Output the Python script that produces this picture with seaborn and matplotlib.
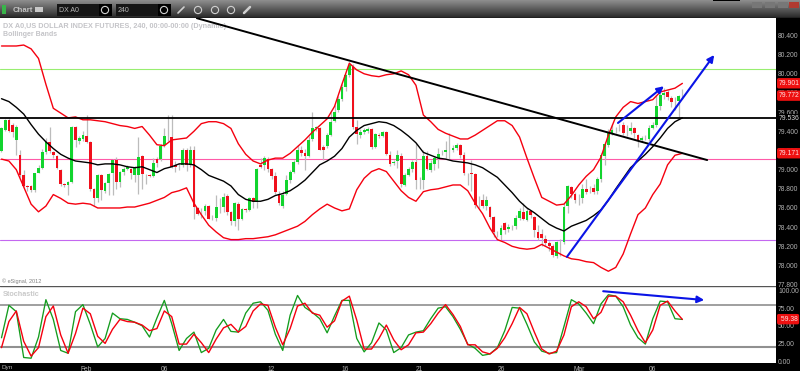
import numpy as np
import matplotlib
matplotlib.use('Agg')
import matplotlib.pyplot as plt
from matplotlib.patches import Rectangle, Circle
import seaborn as sns

# 4h candles
opens = [79.19,79.41,79.52,79.47,79.31,79.15,78.94,78.83,78.83,78.79,78.97,79.02,79.18,79.29,79.18,79.14,79.00,78.85,78.84,78.87,
         79.45,79.30,79.32,79.35,79.29,78.80,78.70,78.94,78.78,78.86,78.97,79.10,78.87,78.98,79.01,79.01,78.94,78.94,79.14,78.94,
         78.94,78.93,79.11,79.11,79.26,79.34,79.34,79.05,79.05,79.05,79.20,79.05,79.20,78.60,78.56,78.57,78.62,78.51,78.50,78.61,
         78.61,78.72,78.56,78.46,78.64,78.49,78.59,78.58,78.70,78.66,79.05,79.05,79.11,79.01,78.93,78.75,78.62,78.75,78.89,78.98,
         79.08,79.21,79.17,79.14,79.32,79.43,79.43,79.24,79.25,79.36,79.51,79.62,79.74,79.86,79.99,80.07,79.45,79.36,79.39,79.40,
         79.42,79.24,79.36,79.35,79.39,79.15,79.07,79.09,79.14,78.84,78.94,79.01,79.08,78.89,78.89,79.14,79.00,79.06,79.12,79.17,
         79.18,79.21,79.21,79.23,79.26,79.15,78.95,78.96,78.95,78.68,78.68,78.62,78.61,78.51,78.33,78.32,78.44,78.38,78.40,78.41,
         78.50,78.56,78.47,78.57,78.51,78.35,78.33,78.28,78.23,78.20,78.10,78.25,78.24,78.62,78.82,78.75,78.70,78.70,78.80,78.79,
         78.81,78.78,78.90,79.14,79.26,79.38,79.41,79.42,79.47,79.40,79.40,79.43,79.36,79.31,79.33,79.32,79.43,79.47,79.66,79.78,
         79.81,79.75,79.71,79.72,79.77]
closes = [79.43,79.52,79.40,79.39,79.45,78.94,78.83,78.82,78.79,78.96,79.02,79.18,79.29,79.19,79.15,79.02,78.85,78.84,78.87,79.45,
          79.31,79.33,79.36,79.29,78.80,78.70,78.94,78.79,78.86,78.95,79.10,78.87,78.98,79.01,79.03,78.97,79.03,79.13,78.95,78.94,
          78.93,79.07,79.07,79.25,79.35,79.34,79.03,79.03,79.05,79.20,79.05,79.20,78.61,78.54,78.56,78.62,78.49,78.51,78.61,78.61,
          78.71,78.56,78.46,78.65,78.49,78.59,78.58,78.70,78.66,79.01,79.03,79.12,79.01,78.93,78.77,78.65,78.74,78.89,78.98,79.08,
          79.21,79.17,79.14,79.31,79.43,79.44,79.21,79.21,79.36,79.50,79.60,79.74,79.86,79.99,80.09,79.45,79.37,79.39,79.41,79.42,
          79.24,79.37,79.35,79.39,79.16,79.06,79.08,79.15,78.85,78.94,79.01,79.08,78.89,78.89,79.14,79.01,79.07,79.12,79.16,79.17,
          79.20,79.21,79.23,79.26,79.15,78.96,78.95,78.95,78.63,78.68,78.62,78.68,78.51,78.35,78.33,78.39,78.37,78.40,78.40,78.50,
          78.57,78.49,78.57,78.53,78.37,78.29,78.29,78.23,78.20,78.11,78.24,78.25,78.61,78.83,78.75,78.68,78.70,78.80,78.77,78.79,
          78.77,78.90,79.15,79.27,79.38,79.41,79.41,79.42,79.38,79.40,79.43,79.38,79.30,79.33,79.33,79.43,79.47,79.66,79.78,79.80,
          79.76,79.71,79.71,79.77,79.772]
highs = [79.45,79.53,79.54,79.49,79.47,79.20,79.00,78.84,78.84,78.97,79.05,79.22,79.33,79.45,79.19,79.15,79.01,78.86,78.88,79.46,
         79.46,79.35,79.40,79.57,79.30,78.81,78.95,78.95,78.87,78.97,79.11,79.13,78.99,79.03,79.05,79.02,79.04,79.34,79.15,78.95,
         78.95,79.12,79.13,79.27,79.43,79.57,79.57,79.09,79.07,79.23,79.23,79.25,79.25,78.61,78.60,78.64,78.63,78.53,78.74,78.70,
         78.76,78.75,78.57,78.66,78.66,78.60,78.60,78.71,78.71,79.02,79.12,79.14,79.13,79.02,78.98,78.78,78.78,78.94,79.00,79.10,
         79.26,79.25,79.22,79.35,79.60,79.46,79.44,79.26,79.38,79.60,79.67,79.77,79.89,80.00,80.12,80.10,79.52,79.42,79.43,79.44,
         79.43,79.38,79.38,79.40,79.40,79.19,79.10,79.20,79.17,78.96,79.03,79.10,79.28,78.92,79.20,79.19,79.10,79.14,79.23,79.20,
         79.30,79.38,79.26,79.28,79.27,79.18,78.97,79.10,78.96,78.72,78.75,78.73,78.62,78.52,78.36,78.42,78.45,78.43,78.42,78.53,
         78.60,78.65,78.60,78.58,78.52,78.42,78.38,78.32,78.26,78.22,78.26,78.28,78.65,78.84,78.83,78.77,78.75,78.85,78.90,78.83,
         78.85,78.92,79.17,79.29,79.42,79.48,79.44,79.48,79.50,79.47,79.50,79.44,79.37,79.35,79.36,79.47,79.50,79.78,79.80,79.85,
         79.83,79.77,79.76,79.78,79.84]
lows = [79.18,79.40,79.39,79.34,79.15,78.92,78.82,78.78,78.77,78.77,78.96,79.01,79.16,79.17,79.12,79.01,78.83,78.82,78.74,78.86,
        79.24,79.27,79.30,79.28,78.78,78.62,78.66,78.68,78.76,78.74,78.74,78.80,78.82,78.94,79.00,78.90,78.87,78.75,78.80,78.85,
        78.92,78.92,79.03,79.09,79.24,79.30,79.02,78.98,79.00,79.03,78.99,79.03,78.49,78.53,78.50,78.53,78.48,78.47,78.46,78.55,
        78.56,78.53,78.42,78.41,78.37,78.47,78.56,78.57,78.60,78.60,79.02,79.00,78.98,78.90,78.75,78.63,78.60,78.74,78.86,78.96,
        79.06,79.14,79.00,79.13,79.30,79.40,79.20,79.10,79.23,79.35,79.50,79.60,79.72,79.82,79.97,79.42,79.27,79.33,79.37,79.38,
        79.22,79.23,79.33,79.34,79.15,79.04,79.05,79.02,78.82,78.83,78.93,78.98,78.80,78.80,78.80,79.00,78.98,79.00,79.02,79.15,
        79.12,79.10,79.18,79.20,79.12,78.94,78.84,78.78,78.60,78.60,78.60,78.58,78.49,78.30,78.30,78.27,78.33,78.35,78.37,78.38,
        78.47,78.47,78.46,78.50,78.30,78.27,78.20,78.20,78.15,78.09,78.08,78.10,78.22,78.55,78.70,78.65,78.63,78.65,78.75,78.76,
        78.75,78.75,78.87,79.05,79.24,79.36,79.38,79.40,79.36,79.35,79.37,79.33,79.24,79.29,79.31,79.30,79.42,79.44,79.62,79.74,
        79.73,79.65,79.62,79.55,79.74]

# Bollinger bands, one reading every 2 bars
band_step = 2
upper_band = [80.29,80.29,80.29,80.30,80.26,80.16,79.89,79.64,79.59,79.54,79.55,79.52,79.52,79.51,79.50,79.48,79.46,79.45,79.43,79.45,
              79.36,79.26,79.25,79.31,79.32,79.33,79.40,79.48,79.50,79.50,79.48,79.43,79.27,79.16,79.09,79.06,79.10,79.12,79.12,79.17,
              79.24,79.31,79.39,79.46,79.53,79.66,79.89,80.11,80.04,80.00,79.98,79.97,79.99,80.00,80.03,79.99,79.88,79.57,79.50,79.42,
              79.38,79.35,79.32,79.32,79.36,79.41,79.46,79.51,79.51,79.46,79.34,79.12,78.91,78.71,78.67,78.63,78.64,78.73,78.84,78.93,
              79.00,79.13,79.36,79.55,79.65,79.71,79.69,79.71,79.73,79.81,79.83,79.85,79.90]
mid_band = [79.74,79.71,79.65,79.58,79.47,79.37,79.29,79.22,79.16,79.12,79.09,79.08,79.07,79.05,79.06,79.06,79.05,79.03,79.02,79.03,
            79.00,78.97,79.01,79.03,79.06,79.06,79.05,79.00,78.94,78.91,78.88,78.83,78.74,78.69,78.67,78.67,78.69,78.73,78.75,78.78,
            78.83,78.89,78.97,79.05,79.09,79.14,79.22,79.34,79.41,79.46,79.48,79.50,79.49,79.46,79.41,79.35,79.28,79.18,79.15,79.12,
            79.11,79.09,79.08,79.07,79.05,79.02,78.97,78.92,78.84,78.76,78.67,78.60,78.55,78.49,78.43,78.39,78.36,78.41,78.44,78.47,
            78.52,78.58,78.68,78.80,78.91,79.02,79.09,79.16,79.24,79.33,79.43,79.50,79.54]
lower_band = [79.11,79.09,79.00,78.82,78.64,78.56,78.62,78.74,78.70,78.65,78.64,78.65,78.64,78.60,78.60,78.60,78.60,78.61,78.61,78.63,
              78.65,78.68,78.71,78.76,78.78,78.81,78.65,78.53,78.42,78.35,78.29,78.27,78.27,78.28,78.28,78.29,78.30,78.32,78.35,78.38,
              78.41,78.46,78.53,78.59,78.64,78.60,78.57,78.59,78.79,78.91,78.98,79.01,78.98,78.88,78.78,78.71,78.67,78.77,78.79,78.80,
              78.82,78.84,78.84,78.78,78.65,78.54,78.39,78.27,78.24,78.20,78.18,78.17,78.18,78.22,78.18,78.14,78.10,78.07,78.06,78.04,
              78.03,77.98,77.94,77.98,78.12,78.33,78.53,78.60,78.74,78.85,79.05,79.15,79.17]

# stochastic, also every 2 bars
stoch_k = [33,79,70,5,4,34,87,59,15,11,70,80,52,20,32,68,60,59,55,50,34,61,86,53,15,32,41,12,18,44,59,42,41,68,82,84,72,
           38,15,65,93,76,69,60,40,64,86,86,32,13,26,54,44,12,19,37,41,43,60,75,77,63,45,24,18,8,10,19,43,76,75,52,27,
           14,11,12,49,87,81,68,53,81,94,92,77,51,33,24,60,85,84,60,59]
stoch_d = [19,56,71,28,7,19,63,78,37,11,39,75,67,35,25,45,59,56,55,51,43,46,71,63,24,24,38,26,12,31,47,52,41,49,71,81,79,
           48,23,46,78,82,68,65,48,57,85,92,58,17,17,32,51,30,16,23,40,41,53,68,80,66,49,23,23,13,10,18,33,53,76,67,41,
           17,10,14,37,77,84,77,60,69,92,92,84,65,43,26,44,79,85,71,59]

# drawn levels and trend lines (bar number, price)
green_level = 80.05
pink_level = 79.11
violet_level = 78.27
black_level = 79.536
trend_bars = [52.8, 190.7]
trend_prices = [80.58, 79.10]
blue_long = [(152.8, 78.09), (192.6, 80.196)]
blue_short = [(166.6, 79.487), (179.0, 79.87)]
blue_stoch = [(162.6, 99.0), (189.9, 86.5)]

price_ticks = [80.4, 80.2, 80.0, 79.8, 79.6, 79.4, 79.2, 79.0, 78.8, 78.6, 78.4, 78.2, 78.0, 77.8]
stoch_ticks = [100, 75, 50, 25, 0]
date_bars = [23, 44, 73, 93, 113, 135, 156, 176]
date_labels = ['Feb', '06', '12', '16', '21', '26', 'Mar', '06']

sns.set_style('white')
plt.rcParams['font.family'] = ['Liberation Sans', 'DejaVu Sans']

W, H = 800, 371
fig = plt.figure(figsize=(8, 3.71), dpi=100, facecolor='black')


def px_axes(x0, y0, x1, y1):
    return fig.add_axes([x0 / W, 1 - y1 / H, (x1 - x0) / W, (y1 - y0) / H])


XLIM = (-0.405, 209.3)
RED = '#f0101c'
GREEN = '#12d42e'
AXIS_TEXT = '#b0b0b0'

ax = px_axes(0, 18, 776, 286)
ax.set_xlim(*XLIM)
ax.set_ylim(77.786, 80.582)
ax.set_facecolor('white')

# candles
bars = np.arange(len(opens))
o, c = np.array(opens), np.array(closes)
ax.vlines(bars, lows, highs, color='#bcbcbc', lw=0.9, zorder=2)
up = c >= o
ax.bar(bars[up], (c - o)[up], bottom=o[up], width=0.75, color=GREEN, lw=0, zorder=3)
ax.bar(bars[~up], (o - c)[~up], bottom=c[~up], width=0.75, color=RED, lw=0, zorder=3)

for lvl, col in [(green_level, '#98ee70'), (pink_level, '#ff5aa8'), (violet_level, '#c468f0')]:
    ax.axhline(lvl, color=col, lw=0.8, zorder=1)
ax.axhline(black_level, color='black', lw=1.3, zorder=6)

band_x = np.arange(len(upper_band)) * band_step
sns.lineplot(x=band_x, y=upper_band, color='#f5000f', lw=1.0, ax=ax, zorder=4, estimator=None, legend=False)
sns.lineplot(x=band_x, y=lower_band, color='#f5000f', lw=1.0, ax=ax, zorder=4, estimator=None, legend=False)
sns.lineplot(x=band_x, y=mid_band, color='black', lw=1.0, ax=ax, zorder=5, estimator=None, legend=False)
sns.lineplot(x=trend_bars, y=trend_prices, color='black', lw=1.4, ax=ax, zorder=6, estimator=None, legend=False)


def arrow(a, pts):
    a.annotate('', xy=pts[1], xytext=pts[0], zorder=7,
               arrowprops=dict(arrowstyle='-|>', color='#0a14e6', lw=1.5, shrinkA=0, shrinkB=0, mutation_scale=10))


arrow(ax, blue_long)
arrow(ax, blue_short)

ax.set_xticks([])
ax.yaxis.tick_right()
ax.set_yticks(price_ticks)
ax.set_yticklabels(['%.3f' % t for t in price_ticks], color=AXIS_TEXT, fontsize=4.9)
ax.tick_params(axis='y', length=0, pad=1.5)
ax.set_xlabel('')
ax.set_ylabel('')
for s in ax.spines.values():
    s.set_visible(False)


def price_tag(a, val, txt):
    a.text(1.0035, val, txt, transform=a.get_yaxis_transform(), color='#ffe0e0', fontsize=4.9, va='center', ha='left',
           zorder=9, clip_on=False, bbox=dict(boxstyle='round,pad=0.25', fc='#ee1010', ec='none'))


price_tag(ax, 79.901, '79.901')
price_tag(ax, 79.772, '79.772')
price_tag(ax, 79.171, '79.171')
ax.text(1.0035, black_level, '79.536', transform=ax.get_yaxis_transform(), color='#d8d8d8', fontsize=4.9,
        va='center', ha='left', zorder=9, clip_on=False, bbox=dict(boxstyle='square,pad=0.1', fc='black', ec='none'))

ax.text(3 / 776, 1 - 8 / 268, 'DX A0,US DOLLAR INDEX FUTURES, 240, 00:00-00:00 (Dynamic)', transform=ax.transAxes,
        color='#c4c4c8', fontsize=5.2, fontweight='bold', va='center')
ax.text(3 / 776, 1 - 17 / 268, 'Bollinger Bands', transform=ax.transAxes,
        color='#c4c4c8', fontsize=5.0, fontweight='bold', va='center')
ax.text(2 / 776, 5 / 268, '\u00a9 eSignal, 2012', transform=ax.transAxes, color='#808080', fontsize=4.0, va='center')

# stochastic pane
st = px_axes(0, 286, 776, 363)
st.set_xlim(*XLIM)
st.set_ylim(-2.8, 106.4)
st.set_facecolor('white')
st.axhline(80, color='#858585', lw=1.1, zorder=1)
st.axhline(20, color='#909090', lw=1.5, zorder=1)
st.axhline(106, color='#555555', lw=1.0, zorder=1)
stoch_x = np.arange(len(stoch_k)) * band_step
sns.lineplot(x=stoch_x, y=stoch_k, color='#149c1e', lw=0.95, ax=st, zorder=3, estimator=None, legend=False)
sns.lineplot(x=stoch_x, y=stoch_d, color='#f5000f', lw=1.0, ax=st, zorder=4, estimator=None, legend=False)
arrow(st, blue_stoch)
st.yaxis.tick_right()
st.set_yticks(stoch_ticks)
st.set_yticklabels(['%.2f' % t for t in stoch_ticks], color=AXIS_TEXT, fontsize=4.9)
st.tick_params(axis='y', length=0, pad=1.5)
st.set_xticks(date_bars)
st.set_xticklabels(date_labels, color=AXIS_TEXT, fontsize=4.8)
st.tick_params(axis='x', length=0, pad=2.0)
st.set_xlabel('')
st.set_ylabel('')
for s in st.spines.values():
    s.set_visible(False)
price_tag(st, 59.38, ' 59.38')
st.text(3 / 776, 1 - 8 / 77, 'Stochastic', transform=st.transAxes, color='#c8c8c8', fontsize=5.2,
        fontweight='bold', va='center')
fig.text(1 / W, 1 - 367.5 / H, 'Dyn', color=AXIS_TEXT, fontsize=4.6, va='center')

# window toolbar
tb = px_axes(0, 0, 800, 18)
tb.imshow(np.linspace(0.55, 0.16, 18)[:, None], cmap='gray', vmin=0, vmax=1, aspect='auto', extent=(0, 800, 18, 0))
tb.axis('off')
tb.add_patch(Rectangle((0, 16.5), 800, 1.5, color='#202020', lw=0))
tb.add_patch(Rectangle((57, 4), 55, 12, color='#161616', lw=0))
tb.add_patch(Rectangle((116, 4), 54, 12, color='#161616', lw=0))
tb.add_patch(Rectangle((99, 4), 13, 12, color='#000000', lw=0))
tb.add_patch(Rectangle((158, 4), 13, 12, color='#000000', lw=0))
tb.add_patch(Rectangle((2, 5), 4, 9, color='#39b54a', lw=0))
tb.add_patch(Rectangle((35, 7), 8, 5, color='#c8c8c8', lw=0))
tb.text(13, 10, 'Chart', color='#c4c4c4', fontsize=5.6, fontweight='bold', va='center')
tb.text(59, 10.5, 'DX A0', color='#b8b8b8', fontsize=5.0, va='center')
tb.text(118, 10.5, '240', color='#b8b8b8', fontsize=5.0, va='center')
for cx in [105, 164, 198, 215, 231]:
    tb.add_patch(Circle((cx, 10), 3.6, fill=False, ec='#d0d0d0', lw=0.8))
tb.plot([178, 184], [13, 7], color='#d0d0d0', lw=1.2)
tb.plot([244, 250], [13, 7], color='#d0d0d0', lw=1.8)
tb.set_xlim(0, 800)
tb.set_ylim(18, 0)
tb.add_patch(Rectangle((713, 0), 27, 1.2, color='black', lw=0))
for bx, col in [(752, '#777777'), (765, '#777777'), (778, '#777777'), (789, '#b03a30')]:
    tb.add_patch(Rectangle((bx, 2), 10, 6, color=col, lw=0))

fig.savefig('out.png', dpi=100, facecolor='black')
